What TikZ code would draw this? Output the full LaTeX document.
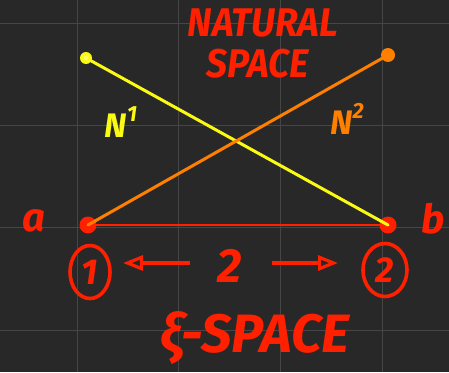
\documentclass[tikz,border=0pt]{standalone}
\usepackage{fontspec}
\setmainfont{Fira Sans}
\usetikzlibrary{arrows.meta,shapes.geometric}
\definecolor{board}{RGB}{40,40,40}
\definecolor{gridc}{RGB}{70,70,70}
\definecolor{chalkred}{RGB}{255,32,0}
\definecolor{chalkyel}{RGB}{250,250,20}
\definecolor{chalkora}{RGB}{255,128,0}
\newcommand{\fs}[1]{\bfseries\itshape\fontsize{#1}{#1}\selectfont}
\tikzset{
  lbl/.style={inner sep=0pt},
  rlbl/.style={lbl, text=chalkred},
  dot/.style={circle, inner sep=0pt, minimum size=#1},
  circnum/.style={ellipse, draw=chalkred, line width=3.6pt, text=chalkred, minimum width=40pt, minimum height=53pt, inner sep=0pt},
  chalkarrow/.style={chalkred, line width=4pt, -{Triangle[open, length=20pt, width=15pt, line width=3.2pt]}},
}
\begin{document}
\begin{tikzpicture}[x=1pt,y=-1pt]
\useasboundingbox (0,0) rectangle (449,372);
\fill[board] (0,0) rectangle (449,372);
% grid
\foreach \gx in {77,178,280,382} \draw[gridc, line width=0.6pt] (\gx,0) -- (\gx,372);
\foreach \gy in {23,125,227,330} \draw[gridc, line width=0.6pt] (0,\gy) -- (449,\gy);
% points
\node[dot=12pt, fill=chalkyel] (p1) at (86,58) {};
\node[dot=14pt, fill=chalkora] (p2) at (388,55) {};
\node[dot=17pt, fill=chalkred] (a) at (88,225) {};
\node[dot=17pt, fill=chalkred] (b) at (388,225) {};
% lines
\draw[chalkred, line width=2.2pt] (a.center) -- (b.center);
\draw[chalkyel, line width=3pt, line cap=round] (p1.center) -- (b.center);
\draw[chalkora, line width=3pt, line cap=round] (a.center) -- (p2.center);
\fill[chalkyel!60!white] (p1.center) circle (2.2pt);
% labels
\node[rlbl, font=\fs{40}] (la) at (34,221) {a};
\node[rlbl, font=\fs{40}] (lb) at (433,219) {b};
\node[lbl, text=chalkyel, font=\fs{34}] (n1) at (121,122) {N\raisebox{0.45em}{\fontsize{22}{22}\selectfont 1}};
\node[lbl, text=chalkora, font=\fs{34}] (n2) at (347,119) {N\raisebox{0.45em}{\fontsize{22}{22}\selectfont 2}};
\node[rlbl, font=\fs{40}, xscale=0.93] (nat) at (263,23) {NATURAL};
\node[rlbl, font=\fs{40}, xscale=0.93] (spc) at (258,64) {SPACE};
\node[circnum, font=\fs{36}] (c1) at (90,272) {1};
\node[circnum, minimum width=44pt, font=\fs{36}] (c2) at (385,270) {2};
\node[rlbl, font=\fs{48}] (two) at (230,266) {2};
\coordinate (al1) at (190,263);
\coordinate (al2) at (123,263);
\coordinate (ar1) at (272,263);
\coordinate (ar2) at (338,263);
\draw[chalkarrow] (al1) -- (al2);
\draw[chalkarrow] (ar1) -- (ar2);
\node[rlbl, font=\fs{54}] (xi) at (255,338) {ξ-SPACE};
\end{tikzpicture}
\end{document}
